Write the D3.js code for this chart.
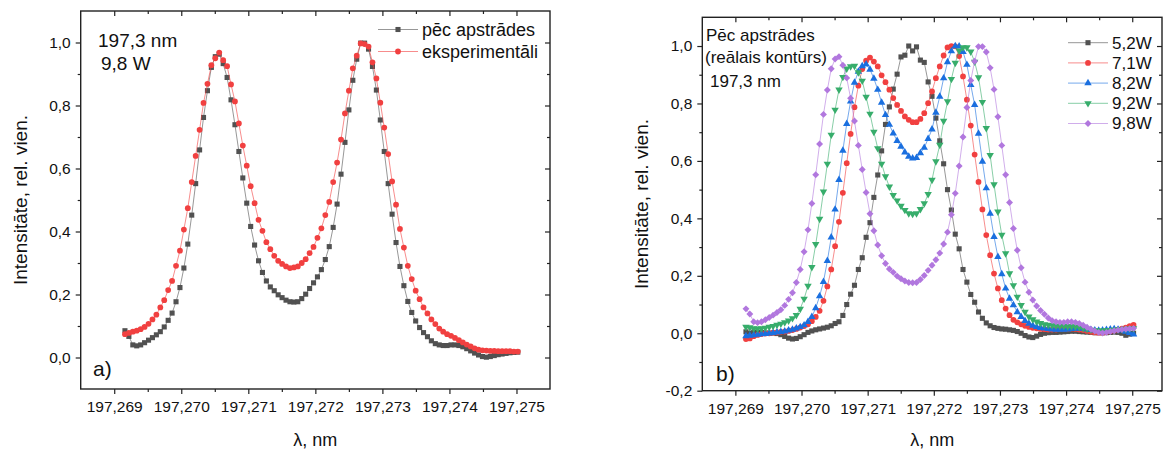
<!DOCTYPE html>
<html>
<head>
<meta charset="utf-8">
<script src="https://cdn.jsdelivr.net/npm/d3@7"></script>
<style>
  body { margin: 0; background: #fff; }
  svg text { font-family: "Liberation Sans", Arial, sans-serif; fill: #111; }
</style>
</head>
<body>
<div id="chart"></div>
<script>
/* Two Origin-style panels: a) processed vs experimental contour, b) processed contours at several powers */

// wavelength grid of the spectrometer (start, step)
const lambdaStart = 197.26916,
      lambdaStep = 0.0000586;

const xTickValues = [197.269, 197.270, 197.271, 197.272, 197.273, 197.274, 197.275];
const yTicksA = [0, 0.2, 0.4, 0.6, 0.8, 1.0];
const yTicksB = [-0.2, 0, 0.2, 0.4, 0.6, 0.8, 1.0];

// panel a) and the 9,8W curve of panel b)
const pecApstrades = [
  0.085, 0.067, 0.040, 0.037, 0.040, 0.047, 0.055, 0.063, 0.072, 0.082,
  0.097, 0.118, 0.141, 0.177, 0.222, 0.284, 0.360, 0.452, 0.552, 0.659,
  0.762, 0.847, 0.921, 0.955, 0.963, 0.933, 0.889, 0.818, 0.739, 0.654,
  0.570, 0.490, 0.416, 0.357, 0.307, 0.270, 0.243, 0.224, 0.212, 0.199,
  0.190, 0.182, 0.177, 0.176, 0.177, 0.187, 0.201, 0.219, 0.237, 0.256,
  0.279, 0.311, 0.352, 0.413, 0.487, 0.582, 0.683, 0.786, 0.880, 0.947,
  0.998, 0.998, 0.979, 0.924, 0.849, 0.754, 0.654, 0.552, 0.455, 0.365,
  0.289, 0.228, 0.178, 0.143, 0.116, 0.095, 0.079, 0.066, 0.053, 0.044,
  0.040, 0.038, 0.038, 0.040, 0.040, 0.038, 0.034, 0.028, 0.021, 0.014,
  0.008, 0.003, 0.001, 0.003, 0.006, 0.009, 0.011, 0.013, 0.015, 0.016,
  0.017
];

const eksperimentali = [
  0.074, 0.078, 0.082, 0.085, 0.090, 0.097, 0.107, 0.121, 0.136, 0.159,
  0.182, 0.214, 0.243, 0.291, 0.339, 0.406, 0.474, 0.557, 0.640, 0.723,
  0.808, 0.869, 0.928, 0.950, 0.968, 0.944, 0.925, 0.867, 0.813, 0.743,
  0.673, 0.609, 0.544, 0.490, 0.437, 0.402, 0.366, 0.344, 0.323, 0.307,
  0.297, 0.289, 0.284, 0.286, 0.289, 0.300, 0.312, 0.331, 0.351, 0.380,
  0.410, 0.452, 0.494, 0.557, 0.619, 0.692, 0.775, 0.847, 0.918, 0.958,
  0.997, 0.995, 0.987, 0.937, 0.886, 0.809, 0.730, 0.646, 0.559, 0.485,
  0.408, 0.349, 0.291, 0.249, 0.212, 0.185, 0.159, 0.140, 0.121, 0.106,
  0.092, 0.082, 0.074, 0.069, 0.062, 0.055, 0.048, 0.041, 0.035, 0.029,
  0.025, 0.023, 0.022, 0.021, 0.021, 0.020, 0.020, 0.020, 0.020, 0.019,
  0.019
];

const w52 = [
  0.005, 0.000, 0.004, 0.003, 0.002, 0.001, 0.000, 0.001, -0.001, -0.005,
  -0.011, -0.017, -0.020, -0.018, -0.012, -0.005, 0.003, 0.008, 0.012, 0.015,
  0.018, 0.021, 0.026, 0.034, 0.040, 0.062, 0.100, 0.136, 0.167, 0.222,
  0.263, 0.334, 0.385, 0.473, 0.551, 0.635, 0.727, 0.788, 0.850, 0.902,
  0.962, 0.968, 1.000, 0.983, 0.997, 0.951, 0.943, 0.875, 0.825, 0.749,
  0.670, 0.590, 0.500, 0.429, 0.345, 0.294, 0.222, 0.178, 0.135, 0.108,
  0.074, 0.052, 0.036, 0.026, 0.020, 0.017, 0.015, 0.014, 0.012, 0.010,
  0.006, 0.000, -0.008, -0.013, -0.015, -0.010, -0.004, 0.000, 0.002, 0.003,
  0.003, 0.004, 0.005, 0.006, 0.007, 0.007, 0.006, 0.005, 0.004, 0.003,
  0.002, 0.002, 0.002, 0.002, 0.003, 0.004, 0.003, 0.000, -0.007, -0.003,
  0.000
];

const w71 = [
  -0.020, -0.018, -0.010, -0.006, -0.003, -0.001, 0.000, 0.002, 0.003, 0.005,
  0.006, 0.008, 0.011, 0.015, 0.020, 0.025, 0.031, 0.042, 0.057, 0.078,
  0.113, 0.163, 0.222, 0.303, 0.388, 0.489, 0.592, 0.694, 0.787, 0.862,
  0.920, 0.949, 0.960, 0.946, 0.929, 0.898, 0.874, 0.848, 0.819, 0.795,
  0.774, 0.755, 0.743, 0.735, 0.735, 0.746, 0.766, 0.801, 0.842, 0.888,
  0.929, 0.967, 0.995, 1.000, 0.999, 0.965, 0.894, 0.813, 0.723, 0.622,
  0.527, 0.431, 0.342, 0.272, 0.208, 0.156, 0.115, 0.086, 0.063, 0.047,
  0.038, 0.031, 0.026, 0.022, 0.019, 0.017, 0.015, 0.014, 0.013, 0.013,
  0.013, 0.014, 0.015, 0.016, 0.016, 0.015, 0.013, 0.011, 0.008, 0.005,
  0.003, 0.002, 0.002, 0.004, 0.007, 0.010, 0.013, 0.016, 0.020, 0.025,
  0.029
];

const w82 = [
  -0.010, -0.008, -0.006, -0.005, -0.003, -0.002, 0.000, 0.001, 0.003, 0.005,
  0.007, 0.010, 0.013, 0.017, 0.022, 0.028, 0.040, 0.057, 0.088, 0.129,
  0.179, 0.252, 0.334, 0.431, 0.534, 0.636, 0.729, 0.807, 0.873, 0.911,
  0.930, 0.936, 0.918, 0.887, 0.848, 0.803, 0.760, 0.726, 0.696, 0.670,
  0.650, 0.630, 0.615, 0.609, 0.611, 0.627, 0.646, 0.677, 0.710, 0.768,
  0.824, 0.888, 0.944, 0.982, 1.000, 0.999, 0.980, 0.935, 0.865, 0.795,
  0.695, 0.598, 0.505, 0.417, 0.336, 0.266, 0.206, 0.156, 0.121, 0.098,
  0.074, 0.057, 0.043, 0.034, 0.027, 0.022, 0.019, 0.017, 0.015, 0.014,
  0.013, 0.013, 0.013, 0.014, 0.015, 0.016, 0.017, 0.016, 0.014, 0.012,
  0.010, 0.009, 0.010, 0.012, 0.014, 0.015, 0.013, 0.010, 0.006, 0.001,
  -0.004
];

const w92 = [
  0.022, 0.020, 0.017, 0.016, 0.017, 0.019, 0.022, 0.025, 0.029, 0.033,
  0.038, 0.044, 0.052, 0.063, 0.085, 0.120, 0.165, 0.230, 0.310, 0.398,
  0.493, 0.590, 0.691, 0.778, 0.848, 0.892, 0.921, 0.929, 0.931, 0.908,
  0.879, 0.823, 0.764, 0.701, 0.644, 0.590, 0.546, 0.510, 0.481, 0.462,
  0.443, 0.429, 0.417, 0.415, 0.417, 0.432, 0.452, 0.484, 0.534, 0.598,
  0.656, 0.739, 0.807, 0.885, 0.941, 0.984, 0.995, 0.995, 0.980, 0.945,
  0.891, 0.805, 0.714, 0.620, 0.518, 0.423, 0.342, 0.278, 0.208, 0.167,
  0.127, 0.098, 0.074, 0.058, 0.048, 0.040, 0.035, 0.031, 0.029, 0.027,
  0.026, 0.025, 0.025, 0.024, 0.024, 0.023, 0.021, 0.018, 0.015, 0.012,
  0.010, 0.009, 0.009, 0.010, 0.011, 0.012, 0.013, 0.014, 0.015, 0.016,
  0.017
];

const w98 = pecApstrades; // same processed contour as panel a)

const labelsA = ["pēc apstrādes", "eksperimentāli"];
const labelsB = ["5,2W", "7,1W", "8,2W", "9,2W", "9,8W"];

const colors = ["#515151", "#F14040", "#1A6FDF", "#37AD6B", "#B177DE"];

const width = 1167, height = 452;

const svg = d3.select("#chart").append("svg")
  .attr("width", width)
  .attr("height", height)
  .attr("viewBox", [0, 0, width, height]);

const locale = d3.formatLocale({ decimal: ",", thousands: " ", grouping: [3], currency: ["", ""], minus: "-" });
const fmtX = locale.format(".3f");
const fmtY = locale.format(".1f");

const lambda = d3.range(pecApstrades.length).map(i => lambdaStart + i * lambdaStep);

// square, circle, up triangle, down triangle, diamond (square turned 45°)
const symbols = [
  d3.symbol().type(d3.symbolSquare).size(26),
  d3.symbol().type(d3.symbolCircle).size(26),
  d3.symbol().type(d3.symbolTriangle).size(24),
  d3.symbol().type(d3.symbolTriangle).size(24),
  d3.symbol().type(d3.symbolSquare).size(24)
];
const rotations = [0, 0, 0, 180, 45];

function panel(box, yDomain, yTicks, yMinor) {
  const x = d3.scaleLinear().domain(box.xDomain).range([box.left, box.right]);
  const y = d3.scaleLinear().domain(yDomain).range([box.bottom, box.top]);
  const g = svg.append("g");

  const xMinor = d3.range(197.2685, 197.2756, 0.001).filter(v => v > box.xDomain[0] + 1e-6 && v < box.xDomain[1] - 1e-6);

  // bottom
  g.append("g").attr("transform", `translate(0,${box.bottom})`)
    .call(d3.axisBottom(x).tickValues(xTickValues).tickFormat(fmtX).tickSize(5).tickPadding(7).tickSizeOuter(0))
    .call(a => a.selectAll("text").attr("font-size", 15.5))
    .call(a => a.select(".domain").remove());
  g.append("g").attr("transform", `translate(0,${box.bottom})`)
    .call(d3.axisBottom(x).tickValues(xMinor).tickFormat("").tickSize(3).tickSizeOuter(0))
    .call(a => a.select(".domain").remove());
  // top, ticks inside
  g.append("g").attr("transform", `translate(0,${box.top})`)
    .call(d3.axisBottom(x).tickValues(xTickValues).tickFormat("").tickSize(5).tickSizeOuter(0))
    .call(a => a.select(".domain").remove());
  g.append("g").attr("transform", `translate(0,${box.top})`)
    .call(d3.axisBottom(x).tickValues(xMinor).tickFormat("").tickSize(3).tickSizeOuter(0))
    .call(a => a.select(".domain").remove());
  // left
  g.append("g").attr("transform", `translate(${box.left},0)`)
    .call(d3.axisLeft(y).tickValues(yTicks).tickFormat(fmtY).tickSize(5).tickPadding(5).tickSizeOuter(0))
    .call(a => a.selectAll("text").attr("font-size", 15.5))
    .call(a => a.select(".domain").remove());
  g.append("g").attr("transform", `translate(${box.left},0)`)
    .call(d3.axisLeft(y).tickValues(yMinor).tickFormat("").tickSize(3).tickSizeOuter(0))
    .call(a => a.select(".domain").remove());
  // right, ticks inside
  g.append("g").attr("transform", `translate(${box.right},0)`)
    .call(d3.axisLeft(y).tickValues(yTicks).tickFormat("").tickSize(5).tickSizeOuter(0))
    .call(a => a.select(".domain").remove());
  g.append("g").attr("transform", `translate(${box.right},0)`)
    .call(d3.axisLeft(y).tickValues(yMinor).tickFormat("").tickSize(3).tickSizeOuter(0))
    .call(a => a.select(".domain").remove());

  g.selectAll(".tick line").attr("stroke", "#222").attr("stroke-width", 1.2);

  g.append("rect")
    .attr("x", box.left).attr("y", box.top)
    .attr("width", box.right - box.left).attr("height", box.bottom - box.top)
    .attr("fill", "none").attr("stroke", "#222").attr("stroke-width", 1.4);

  // axis titles
  g.append("text")
    .attr("x", (box.left + box.right) / 2).attr("y", 446)
    .attr("text-anchor", "middle").attr("font-size", 18)
    .text("λ, nm");
  g.append("text")
    .attr("transform", `translate(${box.left - 54},${(box.top + box.bottom) / 2}) rotate(-90)`)
    .attr("text-anchor", "middle").attr("font-size", 19)
    .text("Intensitāte, rel. vien.");

  return { x, y, g };
}

function drawSeries(p, values, k) {
  const line = d3.line().x((d, i) => p.x(lambda[i])).y(d => p.y(d));
  p.g.append("path")
    .attr("d", line(values))
    .attr("fill", "none")
    .attr("stroke", colors[k])
    .attr("stroke-opacity", 0.75)
    .attr("stroke-width", 0.8);
  p.g.append("g").selectAll("path")
    .data(values)
    .join("path")
    .attr("d", symbols[k])
    .attr("fill", colors[k])
    .attr("transform", (d, i) => `translate(${p.x(lambda[i])},${p.y(d)}) rotate(${rotations[k]})`);
}

function legendRow(p, k, x0, yc, label, size) {
  p.g.append("line")
    .attr("x1", x0).attr("x2", x0 + 40).attr("y1", yc).attr("y2", yc)
    .attr("stroke", colors[k]).attr("stroke-opacity", 0.6).attr("stroke-width", 1);
  p.g.append("path")
    .attr("d", symbols[k])
    .attr("fill", colors[k])
    .attr("transform", `translate(${x0 + 20},${yc}) rotate(${rotations[k]})`);
  p.g.append("text")
    .attr("x", x0 + 44).attr("y", yc).attr("dy", "0.35em")
    .attr("font-size", size)
    .text(label);
}

// ---- panel a)
const pa = panel({ left: 80.7, right: 550, top: 11, bottom: 389, xDomain: [197.2685, 197.2755] },
                 [-0.1, 1.1], yTicksA, [0.1, 0.3, 0.5, 0.7, 0.9]);
drawSeries(pa, pecApstrades, 0);
drawSeries(pa, eksperimentali, 1);

legendRow(pa, 0, 378, 29.5, labelsA[0], 18);
legendRow(pa, 1, 378, 51.5, labelsA[1], 18);

pa.g.append("text").attr("x", 98).attr("y", 47).attr("font-size", 19).text("197,3 nm");
pa.g.append("text").attr("x", 101).attr("y", 70).attr("font-size", 19).text("9,8 W");
pa.g.append("text").attr("x", 93).attr("y", 376).attr("font-size", 21).text("a)");

// ---- panel b)
const pb = panel({ left: 702.3, right: 1162, top: 17.3, bottom: 390.7, xDomain: [197.2685, 197.27545] },
                 [-0.2, 1.1], yTicksB, [-0.1, 0.1, 0.3, 0.5, 0.7, 0.9]);
[w52, w71, w82, w92, w98].forEach((s, k) => drawSeries(pb, s, k));

labelsB.forEach((l, k) => legendRow(pb, k, 1068, 42.7 + k * 20.2, l, 17));

pb.g.append("text").attr("x", 706).attr("y", 41).attr("font-size", 17).text("Pēc apstrādes");
pb.g.append("text").attr("x", 705).attr("y", 63).attr("font-size", 17).text("(reālais kontūrs)");
pb.g.append("text").attr("x", 710).attr("y", 87).attr("font-size", 17).text("197,3 nm");
pb.g.append("text").attr("x", 716).attr("y", 381).attr("font-size", 21).text("b)");
</script>
</body>
</html>
